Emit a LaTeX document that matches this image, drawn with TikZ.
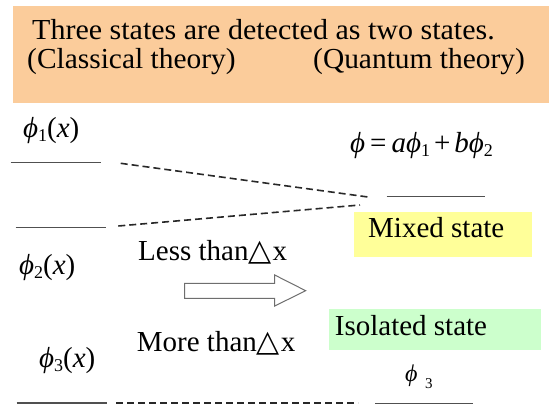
\documentclass[tikz,border=0pt]{standalone}
\usepackage{fontspec}
\setmainfont{Liberation Serif}
\newfontfamily\symfont{DejaVu Sans}
\definecolor{peach}{RGB}{251,204,155}
\definecolor{lemon}{RGB}{255,255,153}
\definecolor{mint}{RGB}{204,255,204}
\definecolor{linegray}{RGB}{80,80,80}
\definecolor{dashgray}{RGB}{40,40,40}
\definecolor{arrowgray}{RGB}{110,110,110}
\newcommand\phisym{\textit{ϕ}}
\newcommand\phsub[1]{\phisym\raisebox{-4pt}{\fontsize{18}{18}\selectfont #1}}
\newcommand\tri{{\symfont\fontsize{30}{30}\selectfont △}}
\begin{document}
\begin{tikzpicture}[x=1pt,y=-1pt,
  txt/.style={anchor=base west, inner sep=0pt, font=\fontsize{29}{34}\selectfont},
  level/.style={draw=linegray, line width=1.5pt},
  dashcon/.style={draw=dashgray, line width=1.6pt, dash pattern=on 7pt off 4pt}]
\useasboundingbox (0,0) rectangle (549,405);
% boxes
\fill[peach] (13,6) rectangle (549,103);
\fill[lemon] (354,212) rectangle (531.5,257);
\fill[mint] (328.7,309.3) rectangle (541,350);
% header text
\node[txt] (h1) at (32,39) {\scalebox{1.035}[1]{Three states are detected as two states.}};
\node[txt] (h2a) at (27,68) {\scalebox{1.015}[1]{(Classical theory)}};
\node[txt] (h2b) at (313,68) {\scalebox{1.015}[1]{(Quantum theory)}};
% labels
\node[txt] (p1) at (23,137) {\phsub{1}(\textit{x})};
\node[txt] (p2) at (19,274) {\phsub{2}(\textit{x})};
\node[txt] (p3) at (39,367) {\phsub{3}(\textit{x})};
\node[txt] (pm) at (350,152) {\phisym\kern5pt=\kern5pt\textit{a}\phsub{1}\kern4pt+\kern4pt\textit{b}\phsub{2}};
\node[txt] (mixed) at (368,237.7) {Mixed state};
\node[txt] (iso) at (334.7,335) {Isolated state};
\node[txt] (less) at (138,260) {Less than\tri\kern1pt x};
\node[txt] (more) at (136.7,351.7) {More than\tri\kern1pt x};
\node[anchor=base west, inner sep=0pt, font=\fontsize{24}{24}\selectfont] (p3r) at (405,381) {\phisym};
\node[anchor=base west, inner sep=0pt, font=\fontsize{15}{15}\selectfont] (p3rs) at (425,388) {3};
% level coordinates
\coordinate (a1) at (10.7,162.7); \coordinate (b1) at (101,162.7);
\coordinate (a2) at (15.7,227.7); \coordinate (b2) at (106,227.7);
\coordinate (ar) at (386.7,196.7); \coordinate (br) at (485.3,196.7);
\coordinate (a3) at (16.7,403); \coordinate (b3) at (107.3,403);
\coordinate (ar3) at (375.3,403.5); \coordinate (br3) at (472.7,403.5);
\coordinate (d1s) at (120.7,163.3); \coordinate (d1e) at (368,197);
\coordinate (d2s) at (118.3,226); \coordinate (d2e) at (360,205);
\coordinate (d3s) at (116,403); \coordinate (d3e) at (358,403);
% levels
\draw[level] (a1) -- (b1);
\draw[level] (a2) -- (b2);
\draw[level] (ar) -- (br);
\draw[level] (a3) -- (b3);
\draw[level] (ar3) -- (br3);
% dashed connectors
\draw[dashcon] (d1s) -- (d1e);
\draw[dashcon] (d2s) -- (d2e);
\draw[dashcon] (d3s) -- (d3e);
% block arrow
\draw[arrowgray, line width=1pt, fill=white, line join=miter]
  (184.7,283.3) -- (274.7,283.3) -- (274.7,275) -- (305.7,290.7) -- (274.7,306) -- (274.7,298.3) -- (184.7,298.3) -- cycle;
\end{tikzpicture}
\end{document}
